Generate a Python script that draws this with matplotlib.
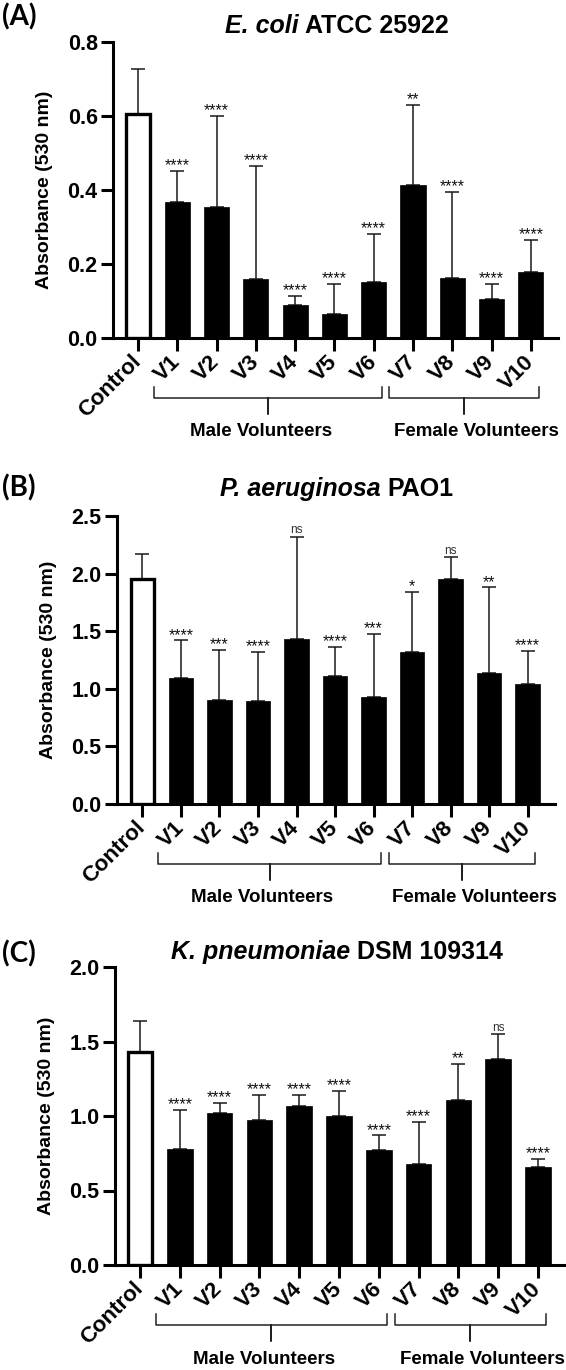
import matplotlib
matplotlib.use('Agg')
import matplotlib.pyplot as plt
import numpy as np
from matplotlib.lines import Line2D

W, H, DPI = 566, 1370, 100

# ---------------- data ----------------
categories = ['Control', 'V1', 'V2', 'V3', 'V4', 'V5', 'V6', 'V7', 'V8', 'V9', 'V10']

a_means = [0.605, 0.368, 0.354, 0.160, 0.089, 0.065, 0.151, 0.414, 0.162, 0.105, 0.178]
a_tops = [0.727, 0.451, 0.600, 0.465, 0.113, 0.146, 0.281, 0.630, 0.395, 0.146, 0.265]
a_sig = ['', '****', '****', '****', '****', '****', '****', '**', '****', '****', '****']

b_means = [1.95, 1.09, 0.90, 0.89, 1.43, 1.11, 0.93, 1.32, 1.95, 1.14, 1.04]
b_tops = [2.17, 1.42, 1.34, 1.32, 2.32, 1.36, 1.48, 1.84, 2.14, 1.88, 1.33]
b_sig = ['', '****', '***', '****', 'ns', '****', '***', '*', 'ns', '**', '****']

c_means = [1.43, 0.78, 1.02, 0.97, 1.07, 1.00, 0.77, 0.68, 1.11, 1.38, 0.66]
c_tops = [1.64, 1.04, 1.09, 1.14, 1.14, 1.17, 0.87, 0.96, 1.35, 1.55, 0.71]
c_sig = ['', '****', '****', '****', '****', '****', '****', '****', '**', 'ns', '****']

a_sd = list(np.array(a_tops) - np.array(a_means))
b_sd = list(np.array(b_tops) - np.array(b_means))
c_sd = list(np.array(c_tops) - np.array(c_means))

titles_italic = ['E. coli', 'P. aeruginosa', 'K. pneumoniae']
titles_plain = ['ATCC 25922', 'PAO1', 'DSM 109314']
panel_tags = ['(A)', '(B)', '(C)']
ylabel = 'Absorbance (530 nm)'
group_labels = ['Male Volunteers', 'Female Volunteers']
group_ranges = [(1, 6), (7, 10)]

# ---------------- style ----------------
plt.rcParams['font.family'] = ['Liberation Sans', 'DejaVu Sans']
fig = plt.figure(figsize=(W / DPI, H / DPI), dpi=DPI)

# panel geometry in pixels: left, right, top(ymax), bottom(y=0), xlim
panels = [
    dict(means=a_means, sd=a_sd, sig=a_sig, ymax=0.8, step=0.2,
         left=113, right=558, top=42, bottom=338, xlim=(-0.636, 10.69),
         tag_y=17, title_base=33),
    dict(means=b_means, sd=b_sd, sig=b_sig, ymax=2.5, step=0.5,
         left=117, right=555, top=516, bottom=804, xlim=(-0.66, 10.71),
         tag_y=488, title_base=496),
    dict(means=c_means, sd=c_sd, sig=c_sig, ymax=2.0, step=0.5,
         left=115, right=565, top=967, bottom=1265, xlim=(-0.63, 10.68),
         tag_y=954, title_base=959),
]

renderer = fig.canvas.get_renderer()
LW = 2.2
TITLE_FS = 18


def fx(px):
    return px / W


def fy(py):
    return 1 - py / H


for i, p in enumerate(panels):
    ax = fig.add_axes([fx(p['left']), fy(p['bottom']),
                       (p['right'] - p['left']) / W, (p['bottom'] - p['top']) / H])
    x = np.arange(len(categories))
    means = np.array(p['means'])
    sd = np.array(p['sd'])

    ax.errorbar(x, means, yerr=[np.zeros_like(sd), sd], fmt='none', ecolor='#1a1a1a',
                elinewidth=1.1, capsize=5, capthick=1.1, zorder=2)
    ax.bar(x[0], means[0], width=0.60, color='white', edgecolor='black',
           linewidth=2.4, zorder=3)
    ax.bar(x[1:], means[1:], width=0.64, color='black', edgecolor='black',
           linewidth=0.5, zorder=3)

    for xi, m, s, lab in zip(x, means, sd, p['sig']):
        if not lab:
            continue
        if lab == 'ns':
            ax.annotate(lab, (xi, m + s), xytext=(0, 2.5), textcoords='offset points',
                        ha='center', va='baseline', fontsize=8.5, color='#333333')
        else:
            ax.annotate(lab, (xi, m + s), xytext=(0, 0.5), textcoords='offset points',
                        ha='center', va='baseline', fontsize=11.5, color='#111111')

    ax.set_xlim(*p['xlim'])
    ax.set_ylim(0, p['ymax'])
    ax.spines['top'].set_visible(False)
    ax.spines['right'].set_visible(False)
    for sname in ['left', 'bottom']:
        ax.spines[sname].set_linewidth(LW)
    ax.patch.set_alpha(0)

    yt = np.arange(0, p['ymax'] + 1e-9, p['step'])
    ax.set_yticks(yt)
    ax.set_yticklabels([f'{v:.1f}' for v in yt], fontweight='bold', fontsize=15.5)
    ax.set_xticks(x)
    ax.set_xticklabels(categories, rotation=45, ha='right', va='center',
                       rotation_mode='anchor', fontweight='bold', fontsize=16)
    ax.tick_params(axis='both', length=9, width=LW, direction='out')
    ax.tick_params(axis='y', pad=2)
    ax.tick_params(axis='x', pad=6)

    # y label
    fig.text(fx(p['left'] - 68), fy((p['top'] + p['bottom']) / 2), ylabel,
             rotation=90, ha='center', va='center', fontweight='bold', fontsize=14)

    # panel tag
    fig.text(fx(2), fy(p['tag_y']), panel_tags[i], ha='left', va='center',
             fontweight='bold', fontsize=20, family=['Lato', 'DejaVu Sans'])

    # two-part title
    t1 = fig.text(0, 0, titles_italic[i], style='italic', fontweight='bold',
                  fontsize=TITLE_FS, va='baseline', ha='left')
    t2 = fig.text(0, 0, titles_plain[i], fontweight='bold', fontsize=TITLE_FS,
                  va='baseline', ha='left')
    w1 = t1.get_window_extent(renderer).width
    w2 = t2.get_window_extent(renderer).width
    gap = TITLE_FS * 0.278 * DPI / 72
    total = w1 + gap + w2
    cx = 337
    x0 = cx - total / 2
    t1.set_position((fx(x0), fy(p['title_base'])))
    t2.set_position((fx(x0 + w1 + gap), fy(p['title_base'])))

    # group braces
    base = p['bottom']
    for (g0, g1), glab, toff in zip(group_ranges, group_labels, [-7, 12]):
        xa = ax.transData.transform((g0 - 0.6, 0))[0]
        xb = ax.transData.transform((g1 + 0.2, 0))[0]
        xm = (xa + xb) / 2
        yb = base + 60
        yh = base + 49
        ytip = base + 76
        pts_x = [xa, xa, xm, xm, xm, xb, xb]
        pts_y = [yh, yb, yb, ytip, yb, yb, yh]
        fig.add_artist(Line2D([fx(v) for v in pts_x], [fy(v) for v in pts_y],
                              transform=fig.transFigure, color='#222222', lw=1.1,
                              solid_joinstyle='round'))
        fig.text(fx(xm + toff), fy(base + 94), glab, ha='center', va='center',
                 fontweight='bold', fontsize=13.5)

fig.savefig('out.png', dpi=DPI)
